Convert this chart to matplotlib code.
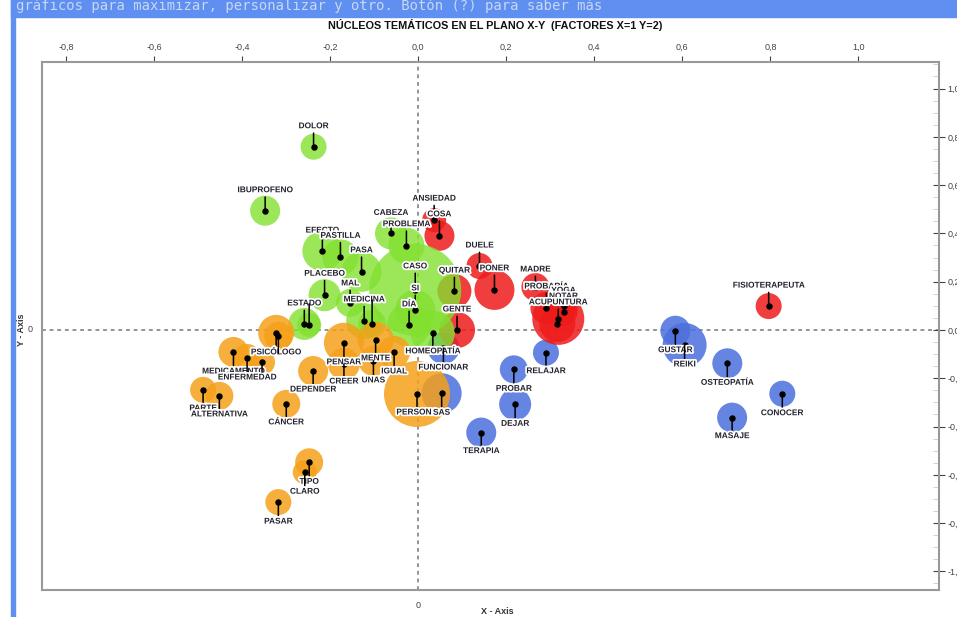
import matplotlib
matplotlib.use("Agg")
import matplotlib.pyplot as plt
import matplotlib.patheffects as pe
from matplotlib.patches import Rectangle
from matplotlib.transforms import blended_transform_factory
import numpy as np

plt.rcParams["font.family"] = ["Liberation Sans", "DejaVu Sans"]

# palabras del plano factorial (factor 1 = x, factor 2 = y)
palabras = [
    "DOLOR", "IBUPROFENO", "CABEZA", "PROBLEMA", "EFECTO", "PASTILLA", "PASA",
    "PLACEBO", "MAL", "MEDICINA", "", "ESTADO", "", "CASO", "SI", "DÍA", "HOMEOPATÍA",
    "PSICÓLOGO", "", "MEDICAMENTO", "ENFERMEDAD", "", "PARTE", "ALTERNATIVA",
    "CÁNCER", "DEPENDER", "PENSAR", "CREER", "MENTE", "UNAS", "IGUAL", "PERSONA",
    "TIPO", "CLARO", "PASAR",
    "ANSIEDAD", "COSA", "DUELE", "PONER", "QUITAR", "GENTE", "MADRE", "PROBARÍA",
    "YOGA", "NOTAR", "ACUPUNTURA", "", "FISIOTERAPEUTA",
    "FUNCIONAR", "SAS", "TERAPIA", "PROBAR", "DEJAR", "RELAJAR", "GUSTAR", "REIKI",
    "OSTEOPATÍA", "CONOCER", "MASAJE",
]
factor_x = [
    -0.238, -0.348, -0.062, -0.027, -0.218, -0.177, -0.129,
    -0.213, -0.155, -0.123, -0.105, -0.259, -0.248, -0.007, -0.007, -0.021, 0.033,
    -0.323, -0.318, -0.420, -0.389, -0.355, -0.489, -0.452,
    -0.300, -0.239, -0.169, -0.169, -0.097, -0.102, -0.055, -0.003,
    -0.248, -0.258, -0.318,
    0.036, 0.048, 0.139, 0.173, 0.082, 0.088, 0.266, 0.291,
    0.330, 0.330, 0.318, 0.316, 0.796,
    0.057, 0.053, 0.143, 0.217, 0.220, 0.290, 0.584, 0.605,
    0.702, 0.827, 0.713,
]
factor_y = [
    0.759, 0.494, 0.400, 0.349, 0.327, 0.301, 0.241,
    0.144, 0.112, 0.037, 0.025, 0.025, 0.021, 0.166, 0.083, 0.021, -0.012,
    -0.012, -0.025, -0.091, -0.116, -0.133, -0.248, -0.273,
    -0.306, -0.170, -0.053, -0.141, -0.041, -0.128, -0.091, -0.265,
    -0.548, -0.589, -0.713,
    0.455, 0.390, 0.265, 0.166, 0.161, 0.000, 0.178, 0.091,
    0.099, 0.075, 0.046, 0.025, 0.099,
    -0.075, -0.262, -0.425, -0.163, -0.308, -0.094, -0.003, -0.062,
    -0.138, -0.264, -0.363,
]
# peso de cada palabra (tamaño de la burbuja)
peso = [
    13, 15, 16, 18, 20, 18, 20,
    16, 14, 18, 14, 16, 12, 46, 20, 22, 22,
    18, 14, 15, 14, 13, 13, 14,
    14, 15, 20, 16, 18, 15, 16, 33,
    14, 12, 13,
    12, 15, 13, 20, 17, 18, 14, 16,
    14, 14, 26, 18, 13,
    16, 20, 15, 14, 16, 13, 15, 22,
    15, 13, 15,
]
# núcleo temático: 0 verde, 1 naranja, 2 rojo, 3 azul
nucleo = [0] * 17 + [1] * 18 + [2] * 13 + [3] * 11

# desplazamiento vertical de la etiqueta (px, + arriba)
etiqueta_dy = [
    20, 20, 20, 21, 20, 21, 21,
    21, 19, 21, 24, 20, 21, 23, 21, 20, -19,
    -20, -17, -20, -20, -10, -19, -19,
    -19, -19, -20, -18, -19, -20, -20, -19,
    -20, -20, -20,
    21, 21, 20, 21, 20, 20, 17, 21,
    15, 15, 16, 5, 20,
    -20, -20, -19, -20, -20, -19, -20, -20,
    -20, -20, -19,
]

colores = {0: "#82e030", 1: "#f5a01a", 2: "#ee1b1b", 3: "#4b6fdc"}
alfas = {0: 0.8, 1: 0.85, 2: 0.85, 3: 0.85}
AZUL = "#5f8ff0"

x = np.array(factor_x)
y = np.array(factor_y)
r = np.array(peso, dtype=float)
g = np.array(nucleo)

fig = plt.figure(figsize=(9.57, 6.17), dpi=100)
ax = fig.add_axes([42 / 957, 1 - 590 / 617, (939 - 42) / 957, (590 - 62) / 617])
ax.set_xlim(-0.855, 1.183)
ax.set_ylim(-1.077, 1.110)

# marco azul de la ventana
fig.patches.append(Rectangle((11 / 957, 0), 4 / 957, 1, transform=fig.transFigure,
                             color=AZUL, zorder=0))
fig.patches.append(Rectangle((11 / 957, 1 - 17 / 617), 1, 17 / 617,
                             transform=fig.transFigure, color=AZUL, zorder=0))
fig.text(16 / 957, 1 - 10 / 617,
         "gráficos para maximizar, personalizar y otro. Botón (?) para saber más",
         fontsize=10, family="DejaVu Sans Mono", color="#c9d7f3", va="baseline")

ax.axhline(0, color="#777777", ls=(0, (2.5, 2.5)), lw=1.1, zorder=0.5)
ax.axvline(0, color="#777777", ls=(0, (2.5, 2.5)), lw=1.1, zorder=0.5)

for k in [3, 2, 0, 1]:
    m = g == k
    ax.scatter(x[m], y[m], s=(1.44 * r[m]) ** 2, color=colores[k], alpha=alfas[k],
               edgecolors="none", zorder=2)

ax.scatter(x, y, s=13, color="black", zorder=4)

for i in range(len(palabras)):
    ax.annotate(palabras[i], xy=(x[i], y[i]),
                xytext=(0, etiqueta_dy[i] * 0.72), textcoords="offset points",
                ha="center", va="center", fontsize=6, fontweight="bold",
                color="#23232f", zorder=5,
                path_effects=[pe.withStroke(linewidth=2.5, foreground="white")],
                arrowprops=dict(arrowstyle="-", color="black", lw=1.1,
                                shrinkA=0, shrinkB=0))

# ejes
for s in ax.spines.values():
    s.set_color("#999999")
    s.set_linewidth(1.5)

xt = [-0.8, -0.6, -0.4, -0.2, 0.0, 0.2, 0.4, 0.6, 0.8, 1.0]
ax.xaxis.tick_top()
ax.set_xticks(xt)
ax.set_xticklabels([f"{v:.1f}".replace(".", ",") for v in xt])
ax.tick_params(axis="x", top=True, bottom=False, length=4, width=0.8,
               colors="#444444", labelsize=6.5, pad=3)

yt = [1.0, 0.8, 0.6, 0.4, 0.2, 0.0, -0.2, -0.4, -0.6, -0.8, -1.0]
ax.yaxis.tick_right()
ax.set_yticks(yt)
ax.set_yticklabels([f"{v:.1f}".replace(".", ",") for v in yt])
ax.set_yticks(np.arange(-1.05, 1.1, 0.05), minor=True)
ax.tick_params(axis="y", which="major", right=True, left=False, direction="inout",
               length=8, width=0.8, colors="#444444", labelsize=6.5, pad=2)
ax.tick_params(axis="y", which="minor", right=True, left=False, direction="in",
               length=4, width=0.6, colors="#cccccc")

tb = blended_transform_factory(ax.transData, ax.transAxes)
ax.text(0, -0.02, "0", transform=tb, ha="center", va="top", fontsize=6.5,
        color="#444444")
tl = blended_transform_factory(ax.transAxes, ax.transData)
ax.text(-0.01, 0, "0", transform=tl, ha="right", va="center", fontsize=6.5,
        color="#444444")

fig.text(497 / 957, 1 - 612 / 617, "X - Axis", ha="center", va="center",
         fontsize=6.5, fontweight="bold", color="#333333")
fig.text(21 / 957, 1 - 330 / 617, "Y - Axis", ha="center", va="center",
         rotation=90, fontsize=6.5, fontweight="bold", color="#333333")
fig.text(495 / 957, 1 - 25 / 617,
         "NÚCLEOS TEMÁTICOS EN EL PLANO X-Y  (FACTORES X=1 Y=2)",
         ha="center", va="center", fontsize=7.8, fontweight="bold", color="#111111")

fig.savefig("out.png", dpi=100)
